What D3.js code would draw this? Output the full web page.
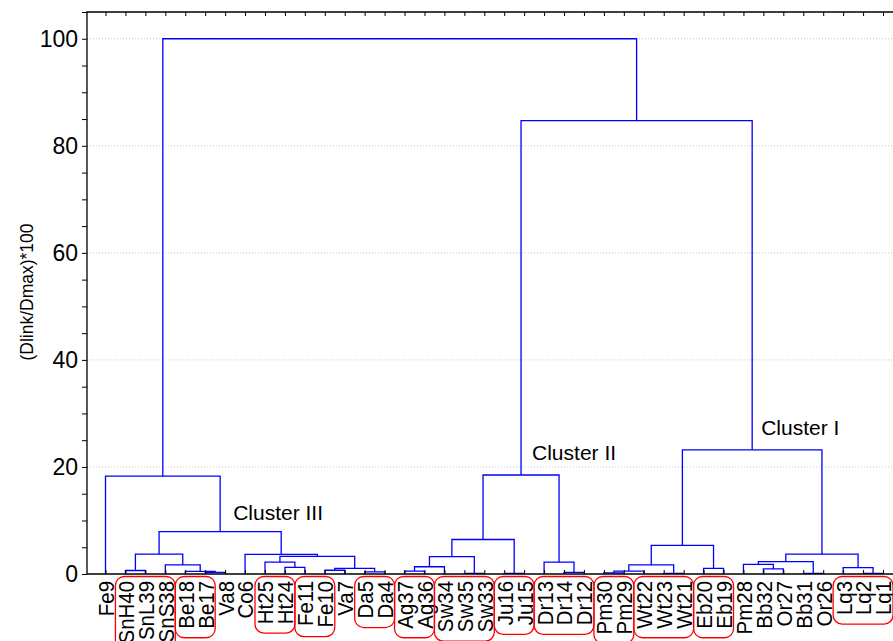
<!DOCTYPE html>
<html><head><meta charset="utf-8">
<script src="https://cdn.jsdelivr.net/npm/d3@7"></script>
<style>body{margin:0;background:#fff;} svg{display:block;font-family:"Liberation Sans",Arial,sans-serif;}</style>
</head><body>
<svg id="chart" width="893" height="641"></svg>
<script>
// Leaf order (left to right)
const leaves = ["Fe9","SnH40","SnL39","SnS38","Be18","Be17","Va8","Co6","Ht25","Ht24","Fe11","Fe10","Va7","Da5","Da4",
  "Ag37","Ag36","Sw34","Sw35","Sw33","Ju16","Ju15","Dr13","Dr14","Dr12",
  "Pm30","Pm29","Wt22","Wt23","Wt21","Eb20","Eb19","Pm28","Bb32","Or27","Bb31","Or26","Lq3","Lq2","Lq1"];
// Merges: [id, left, right, linkage distance (Dlink/Dmax)*100]
const merges = [
  ["n1","SnH40","SnL39",0.65],["n2","Be17","Va8",0.3],["n3","Be18","n2",0.5],["n4","SnS38","n3",1.7],
  ["n5","n1","n4",3.7],["n6","Ht24","Fe11",1.25],["n7","Ht25","n6",2.2],["n8","Fe10","Va7",0.7],
  ["n9","Da5","Da4",0.4],["n10","n8","n9",1.05],["n11","n7","n10",3.3],["n12","Co6","n11",3.65],
  ["n13","n5","n12",7.9],["n14","Fe9","n13",18.3],
  ["m1","Ag37","Ag36",0.55],["m2","m1","Sw34",1.35],["m3","Sw35","Sw33",0.1],["m4","m2","m3",3.25],
  ["m5","Ju16","Ju15",0.1],["m6","m4","m5",6.45],["m7","Dr14","Dr12",0.3],["m8","Dr13","m7",2.2],["m9","m6","m8",18.5],
  ["p1","Pm30","Pm29",0.2],["p2","p1","Wt22",0.55],["p3","Wt23","Wt21",0.1],["p4","p2","p3",1.7],
  ["p5","Eb20","Eb19",1.05],["p6","p4","p5",5.35],["q1","Bb32","Or27",0.95],["q2","Pm28","q1",1.8],
  ["q3","Bb31","Or26",0.1],["q4","q2","q3",2.3],["q5","Lq2","Lq1",0.1],["q6","Lq3","q5",1.2],
  ["q7","q4","q6",3.7],["q8","p6","q7",23.2],
  ["r1","m9","q8",84.7],["root","n14","r1",100]
];
const yTicks = [0,20,40,60,80,100];
const boxGroups = [["SnH40","SnS38"],["Be18","Be17"],["Ht25","Ht24"],["Fe11","Fe10"],["Da5","Da4"],["Ag37","Ag36"],
  ["Sw34","Sw33"],["Ju16","Ju15"],["Dr13","Dr12"],["Pm30","Pm29"],["Wt22","Wt21"],["Eb20","Eb19"],["Lq3","Lq1"]];
const clusterLabels = [["Cluster III","n13"],["Cluster II","m9"],["Cluster I","q8"]];

const svg = d3.select("#chart");
const L = 87, R = 893, T = 12, B = 574;
const FONT = '"Liberation Sans",Arial,sans-serif';
const x = d3.scalePoint().domain(leaves).range([105.5, 883]);
const y = d3.scaleLinear().domain([0, 105]).range([B, T]);

// gridlines
svg.append("g").selectAll("line").data(yTicks.filter(d => d > 0)).join("line")
  .attr("x1", L).attr("x2", R).attr("y1", d => y(d)).attr("y2", d => y(d))
  .attr("stroke", "#c8c8c8").attr("stroke-width", 1).attr("stroke-dasharray", "1,2");

// node positions
const pos = {};
leaves.forEach(l => pos[l] = {x: x(l), h: 0});
merges.forEach(([id, a, b, h]) => { pos[id] = {x: (pos[a].x + pos[b].x) / 2, h: h}; });

// links
svg.append("g").selectAll("path").data(merges).join("path")
  .attr("d", ([id, a, b, h]) => `M${pos[a].x},${y(pos[a].h)}V${y(h)}H${pos[b].x}V${y(pos[b].h)}`)
  .attr("fill", "none").attr("stroke", "#0000ff").attr("stroke-width", 1.3);

// axes
const yAxis = d3.axisLeft(y).tickValues(d3.range(0, 106, 5)).tickSize(5).tickFormat(d => yTicks.includes(d) ? d : "");
const gy = svg.append("g").attr("transform", `translate(${L},0)`).call(yAxis);
gy.select(".domain").remove();
gy.selectAll(".tick line").attr("stroke", "#000").attr("stroke-width", 1);
gy.selectAll(".tick text").attr("font-size", 23).attr("fill", "#000").attr("x", -9)
  .attr("font-family", FONT);

const xAxis = d3.axisBottom(x).tickSize(-4);
const gx = svg.append("g").attr("transform", `translate(0,${B})`).call(xAxis);
gx.select(".domain").remove();
gx.selectAll(".tick line").attr("stroke", "#000");
gx.selectAll(".tick text").attr("font-size", 22).attr("fill", "#000")
  .attr("font-family", FONT)
  .attr("transform", "rotate(-90) scale(0.93,1)").attr("text-anchor", "end")
  .attr("x", -7.5).attr("y", 0).attr("dy", "0.36em");

const xTop = d3.axisTop(x).tickSize(-4).tickFormat("");
const gt = svg.append("g").attr("transform", `translate(0,${T})`).call(xTop);
gt.select(".domain").remove();
gt.selectAll(".tick line").attr("stroke", "#000");

// frame lines
svg.append("path").attr("d", `M${R},${T}H${L}V${B}H${R}`).attr("fill", "none").attr("stroke", "#000").attr("stroke-width", 1.3);

// red boxes
const labelNodes = {};
gx.selectAll(".tick").each(function(d) { labelNodes[d] = d3.select(this).select("text").node(); });
const gb = svg.append("g");
boxGroups.forEach(([a, b]) => {
  const i0 = leaves.indexOf(a), i1 = leaves.indexOf(b);
  let maxLen = 0;
  for (let i = i0; i <= i1; i++) maxLen = Math.max(maxLen, labelNodes[leaves[i]].getComputedTextLength() * 0.93);
  const x0 = x(a) - 10, x1 = x(b) + 10;
  const y0 = B + 2.5, y1 = B + 7 + maxLen + 9;
  gb.append("rect").attr("x", x0).attr("y", y0).attr("width", x1 - x0).attr("height", y1 - y0)
    .attr("rx", 9).attr("ry", 9).attr("fill", "none").attr("stroke", "#ff0000").attr("stroke-width", 1.3);
});

// y label
svg.append("text").attr("transform", `translate(33,${292}) rotate(-90)`).attr("text-anchor", "middle")
  .attr("font-size", 17.5).attr("fill", "#000").text("(Dlink/Dmax)*100");

// cluster labels
const clOffsets = {"Cluster III": [13, -12], "Cluster II": [11, -15], "Cluster I": [9, -15]};
clusterLabels.forEach(([t, id]) => {
  const p = pos[id];
  const o = clOffsets[t];
  svg.append("text").attr("x", p.x + o[0]).attr("y", y(p.h) + o[1]).attr("font-size", 21).attr("fill", "#000").text(t);
});
</script>
</body></html>
